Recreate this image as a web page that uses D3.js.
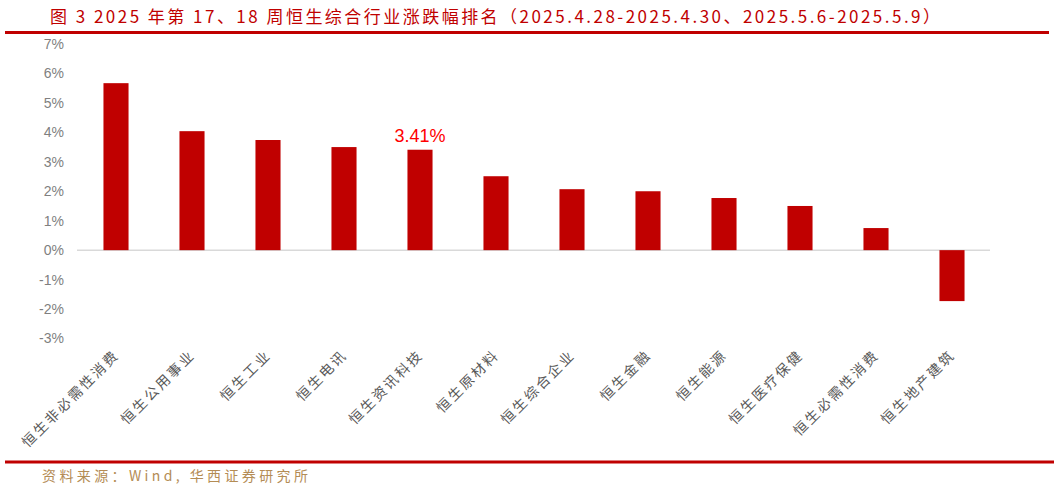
<!DOCTYPE html>
<html>
<head>
<meta charset="utf-8">
<script src="https://cdn.jsdelivr.net/npm/d3@7"></script>
<style>
  body { margin: 0; background: #fff; }
  svg { display: block; font-family: "Liberation Sans", Arial, sans-serif; }
</style>
</head>
<body>
<svg id="chart" width="1054" height="489"></svg>
<script>
// Data
const categories = ["恒生非必需性消费", "恒生公用事业", "恒生工业", "恒生电讯", "恒生资讯科技", "恒生原材料",
  "恒生综合企业", "恒生金融", "恒生能源", "恒生医疗保健", "恒生必需性消费", "恒生地产建筑"];
const values = [5.67, 4.04, 3.74, 3.50, 3.41, 2.51, 2.07, 2.00, 1.77, 1.50, 0.75, -1.73];
const yTicks = [-3, -2, -1, 0, 1, 2, 3, 4, 5, 6, 7];
const labelled = "恒生资讯科技";

const titleText = "图 3 2025 年第 17、18 周恒生综合行业涨跌幅排名（2025.4.28-2025.4.30、2025.5.6-2025.5.9）";
const sourceText = "资料来源：Wind, 华西证券研究所";

const svg = d3.select("#chart");

// Title and rules
svg.append("text")
  .attr("x", 50)
  .attr("y", 23)
  .attr("textLength", 890)
  .attr("lengthAdjust", "spacing")
  .style("font-family", "'Noto Sans CJK SC', sans-serif")
  .style("font-size", "17px")
  .attr("fill", "#c00000")
  .text(titleText);

svg.append("line")
  .attr("x1", 5).attr("x2", 1049)
  .attr("y1", 32.5).attr("y2", 32.5)
  .attr("stroke", "#c00000")
  .attr("stroke-width", 3);

svg.append("line")
  .attr("x1", 5).attr("x2", 1054)
  .attr("y1", 462).attr("y2", 462)
  .attr("stroke", "#c00000")
  .attr("stroke-width", 3);

svg.append("text")
  .attr("x", 42)
  .attr("y", 481)
  .attr("textLength", 266)
  .attr("lengthAdjust", "spacing")
  .style("font-family", "'Noto Sans CJK SC', sans-serif")
  .style("font-size", "14px")
  .attr("fill", "#b48c55")
  .text(sourceText);

// Scales
const x = d3.scaleBand()
  .domain(categories)
  .range([78, 990])
  .paddingInner(0.67)
  .paddingOuter(0.335);

const y = d3.scaleLinear()
  .domain([-3, 7])
  .range([338.5, 44]);

// Y axis
const yAxis = svg.append("g")
  .attr("transform", "translate(64,0)")
  .call(d3.axisLeft(y).tickValues(yTicks).tickSize(0).tickPadding(0).tickFormat(d => d + "%"));
yAxis.select(".domain").remove();
yAxis.selectAll("text")
  .attr("fill", "#7f7f7f")
  .style("font-size", "14px")
  .style("font-family", "'Liberation Sans', Arial, sans-serif");

// Zero line
svg.append("line")
  .attr("x1", 77).attr("x2", 990)
  .attr("y1", y(0)).attr("y2", y(0))
  .attr("stroke", "#d9d9d9")
  .attr("stroke-width", 1.5);

// Bars
svg.selectAll("rect.bar")
  .data(values)
  .enter().append("rect")
  .attr("class", "bar")
  .attr("x", (d, i) => x(categories[i]))
  .attr("width", x.bandwidth())
  .attr("y", d => y(Math.max(0, d)))
  .attr("height", d => Math.abs(y(d) - y(0)))
  .attr("fill", "#c00000");

// Value label
const li = categories.indexOf(labelled);
svg.append("text")
  .attr("x", x(labelled) + x.bandwidth() / 2)
  .attr("y", y(values[li]) - 8)
  .attr("text-anchor", "middle")
  .attr("fill", "#ff0000")
  .style("font-size", "18px")
  .text(values[li].toFixed(2) + "%");

// Category labels, rotated
svg.selectAll("text.cat")
  .data(categories)
  .enter().append("text")
  .attr("class", "cat")
  .attr("transform", d => "translate(" + (x(d) + x.bandwidth() / 2 + 4) + ",356) rotate(-45)")
  .attr("text-anchor", "end")
  .attr("fill", "#595959")
  .style("font-family", "'Noto Sans CJK SC', sans-serif")
  .style("font-size", "14px")
  .style("letter-spacing", "2.3px")
  .text(d => d);
</script>
</body>
</html>
